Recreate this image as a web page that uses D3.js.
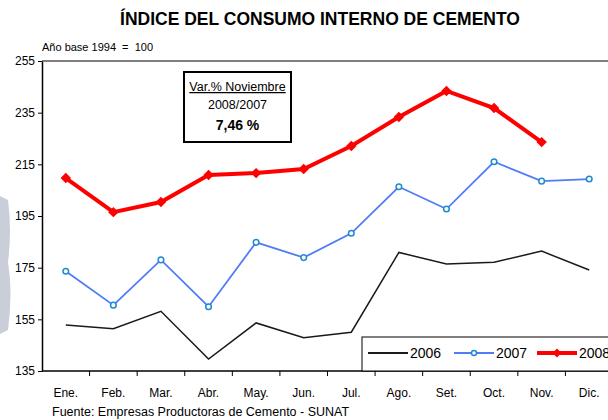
<!DOCTYPE html>
<html>
<head>
<meta charset="utf-8">
<title>Indice del consumo interno de cemento</title>
<script src="https://d3js.org/d3.v7.min.js"></script>
<style>
  body { margin: 0; background: #fff; }
  text { font-family: "Liberation Sans Narrow", "Liberation Sans", Arial, sans-serif; }
</style>
</head>
<body>
<div id="chart"></div>
<script>
const months = ["Ene.", "Feb.", "Mar.", "Abr.", "May.", "Jun.", "Jul.", "Ago.", "Set.", "Oct.", "Nov.", "Dic."];
const values2006 = [152.8, 151.4, 158.1, 139.6, 153.6, 147.9, 150.0, 180.9, 176.4, 177.1, 181.4, 174.1];
const values2007 = [173.6, 160.5, 178.0, 159.9, 184.8, 178.9, 188.3, 206.3, 197.7, 216.0, 208.5, 209.3];
const values2008 = [209.7, 196.5, 200.4, 210.9, 211.6, 213.2, 222.1, 233.3, 243.4, 236.8, 223.6];
const yTicks = [135, 155, 175, 195, 215, 235, 255];

const width = 608, height = 420;
const margin = {top: 61, left: 42, bottom: 49};

const svg = d3.select("#chart").append("svg")
    .attr("width", width)
    .attr("height", height);

// gray watermark shape at the left edge
svg.append("path")
    .attr("d", "M0,196 L8,200 Q12,230 8,262 Q13,292 8,330 L0,334 Z")
    .attr("fill", "#c9ced8");

const x = d3.scaleBand()
    .domain(months)
    .range([margin.left, margin.left + 571]);

const y = d3.scaleLinear()
    .domain([135, 255])
    .range([height - margin.bottom, margin.top]);

// top border of the plot
svg.append("line")
    .attr("x1", margin.left).attr("x2", width)
    .attr("y1", y(255)).attr("y2", y(255))
    .attr("stroke", "#7f7f7f").attr("stroke-width", 2);

// y axis
const yAxis = svg.append("g")
    .attr("transform", `translate(${margin.left},0)`)
    .call(d3.axisLeft(y).tickValues(yTicks).tickSize(4).tickSizeOuter(0));
yAxis.select(".domain").attr("stroke", "#000").attr("stroke-width", 1.5);
yAxis.selectAll("text").attr("font-size", 12).attr("fill", "#000").attr("x", -7)
    .style("font-family", "'Liberation Sans Narrow', Arial, sans-serif");

// x axis: ticks between categories
const xAxis = svg.append("g")
    .attr("transform", `translate(0,${y(135)})`);
xAxis.append("line")
    .attr("x1", margin.left).attr("x2", width)
    .attr("stroke", "#000").attr("stroke-width", 1.5);
xAxis.selectAll(".tk").data(months)
  .join("line")
    .attr("x1", d => x(d) + x.bandwidth())
    .attr("x2", d => x(d) + x.bandwidth())
    .attr("y1", 0).attr("y2", 5)
    .attr("stroke", "#000");
xAxis.selectAll(".lbl").data(months)
  .join("text")
    .attr("x", d => x(d) + x.bandwidth() / 2)
    .attr("y", 26)
    .attr("text-anchor", "middle")
    .attr("font-size", 12)
    .text(d => d);

const line = d3.line()
    .x((d, i) => x(months[i]) + x.bandwidth() / 2)
    .y(d => y(d));

// 2006
svg.append("path")
    .datum(values2006)
    .attr("fill", "none")
    .attr("stroke", "#1a1a1a")
    .attr("stroke-width", 1.5)
    .attr("d", line);

// 2007
svg.append("path")
    .datum(values2007)
    .attr("fill", "none")
    .attr("stroke", "#4f7cf7")
    .attr("stroke-width", 1.8)
    .attr("d", line);
svg.selectAll(".m2007").data(values2007)
  .join("circle")
    .attr("cx", (d, i) => x(months[i]) + x.bandwidth() / 2)
    .attr("cy", d => y(d))
    .attr("r", 2.8)
    .attr("fill", "#fff")
    .attr("stroke", "#1f8ad0")
    .attr("stroke-width", 1.5);

// 2008
svg.append("path")
    .datum(values2008)
    .attr("fill", "none")
    .attr("stroke", "#ff0000")
    .attr("stroke-width", 4)
    .attr("d", line);
svg.selectAll(".m2008").data(values2008)
  .join("path")
    .attr("transform", (d, i) => `translate(${x(months[i]) + x.bandwidth() / 2},${y(d)})`)
    .attr("d", d3.symbol(d3.symbolDiamond2, 70))
    .attr("fill", "#ff0000");

// title and subtitle
svg.append("text")
    .attr("x", 320).attr("y", 25)
    .attr("text-anchor", "middle")
    .attr("font-size", 17.5)
    .attr("font-weight", "bold")
    .text("ÍNDICE DEL CONSUMO INTERNO DE CEMENTO");
svg.append("text")
    .attr("x", 42).attr("y", 51)
    .attr("font-size", 11)
    .style("white-space", "pre")
    .text("Año base 1994  =  100");

// annotation box
svg.append("rect")
    .attr("x", 184).attr("y", 72)
    .attr("width", 107).attr("height", 70)
    .attr("fill", "#fff").attr("stroke", "#000").attr("stroke-width", 2);
svg.append("text")
    .attr("x", 237.5).attr("y", 91)
    .attr("text-anchor", "middle").attr("font-size", 12.5)
    .attr("text-decoration", "underline")
    .text("Var.% Noviembre");
svg.append("text")
    .attr("x", 237.5).attr("y", 109)
    .attr("text-anchor", "middle").attr("font-size", 12.5)
    .text("2008/2007");
svg.append("text")
    .attr("x", 237.5).attr("y", 130)
    .attr("text-anchor", "middle").attr("font-size", 14)
    .attr("font-weight", "bold")
    .text("7,46 %");

// legend (runs off the right edge, as in the original)
const legend = svg.append("g");
legend.append("rect")
    .attr("x", 362).attr("y", 337)
    .attr("width", 260).attr("height", 34)
    .attr("fill", "#fff").attr("stroke", "#000").attr("stroke-width", 1);
const legendItems = [
  {name: "2006", x: 368, color: "#1a1a1a", w: 1.8},
  {name: "2007", x: 454, color: "#4f7cf7", w: 1.8},
  {name: "2008", x: 537, color: "#ff0000", w: 4}
];
legendItems.forEach(it => {
  legend.append("line")
      .attr("x1", it.x).attr("x2", it.x + 40)
      .attr("y1", 353).attr("y2", 353)
      .attr("stroke", it.color).attr("stroke-width", it.w);
  legend.append("text")
      .attr("x", it.x + 42).attr("y", 358)
      .attr("font-size", 14)
      .text(it.name);
});
legend.append("circle")
    .attr("cx", 474).attr("cy", 353).attr("r", 2.5)
    .attr("fill", "#fff").attr("stroke", "#1f8ad0").attr("stroke-width", 1.5);
legend.append("path")
    .attr("transform", "translate(557,353)")
    .attr("d", d3.symbol(d3.symbolDiamond2, 50))
    .attr("fill", "#ff0000");

// source
svg.append("text")
    .attr("x", 52).attr("y", 416)
    .attr("font-size", 12.5)
    .text("Fuente: Empresas Productoras de Cemento - SUNAT");
</script>
</body>
</html>
